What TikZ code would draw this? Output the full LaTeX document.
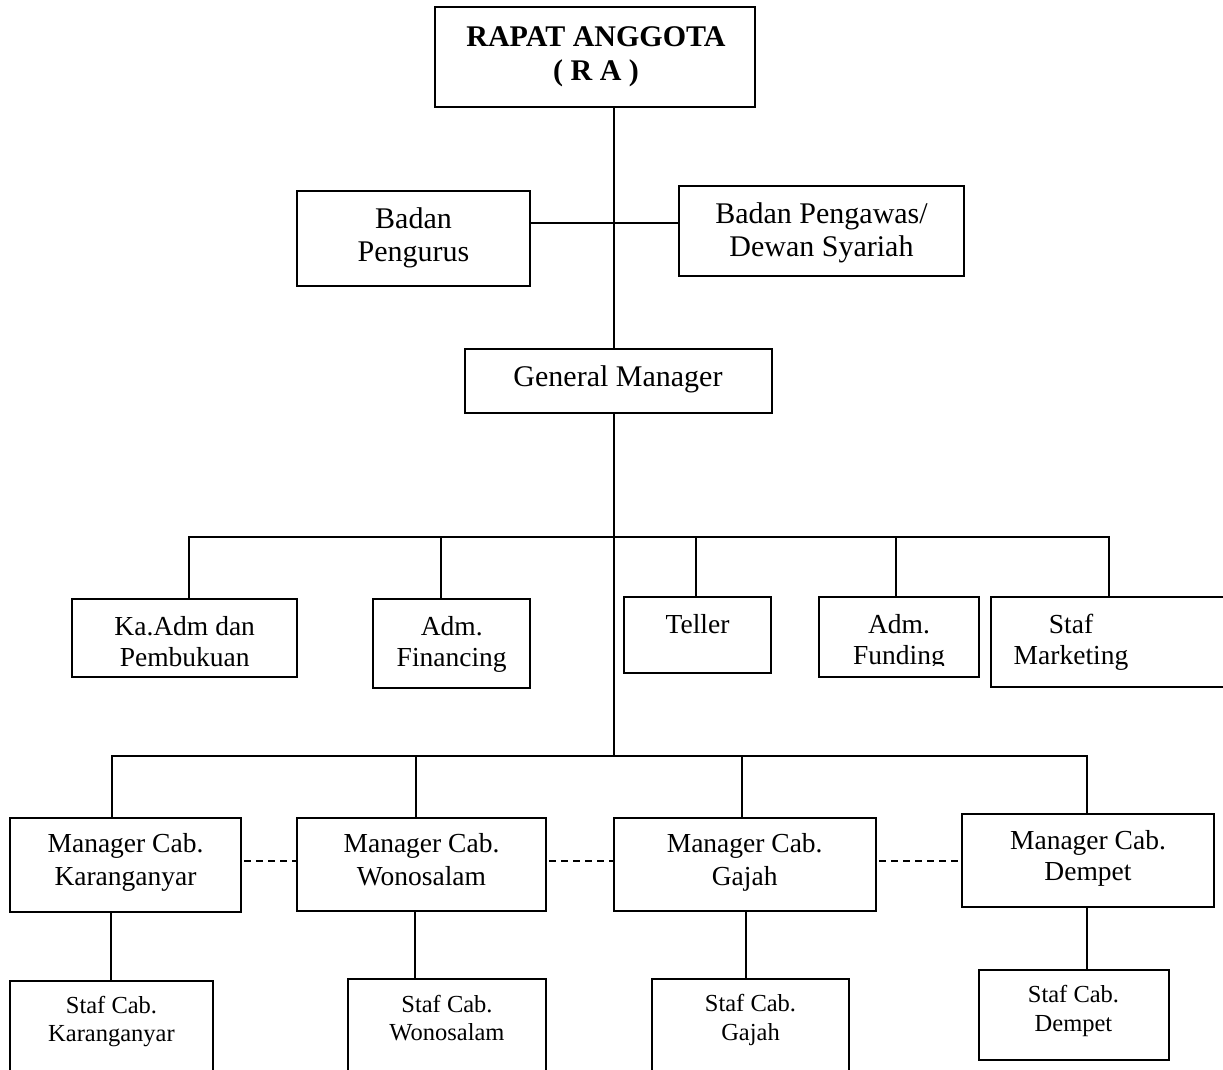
\documentclass[tikz,border=0pt]{standalone}
\usepackage{fontspec}
\setmainfont{Liberation Serif}
\newcommand{\twol}[2]{\begin{tabular}[t]{@{}c@{}}#1\\#2\end{tabular}}
\begin{document}
\begin{tikzpicture}[x=1pt,y=-1pt,
  bx/.style={draw, line width=1.8pt, rectangle, inner sep=0pt, outer sep=0pt, anchor=north west},
  ln/.style={line width=2pt},
  dl/.style={line width=2pt, dash pattern=on 7pt off 5pt, dash phase=-3pt},
  tx/.style={anchor=base, inner sep=0pt, outer sep=0pt},
  fB/.style={font=\fontsize{30}{33.3}\selectfont\bfseries},
  fL/.style={font=\fontsize{30}{33.5}\selectfont},
  fM/.style={font=\fontsize{27.5}{31.5}\selectfont},
  fMM/.style={font=\fontsize{27.5}{32.5}\selectfont},
  fS/.style={font=\fontsize{24.5}{28.4}\selectfont}]
\useasboundingbox (0,0) rectangle (1223,1069);
\fill[white] (0,0) rectangle (1223,1069);
\clip (0,0) rectangle (1223,1069);

% boxes
\node[bx, minimum width=320pt, minimum height=100pt] (RA) at (435,7) {};
\node[bx, minimum width=233pt, minimum height=95pt] (BP) at (297,191) {};
\node[bx, minimum width=285pt, minimum height=90pt] (BPW) at (679,186) {};
\node[bx, minimum width=307pt, minimum height=64pt] (GM) at (465,349) {};
\node[bx, minimum width=225pt, minimum height=78pt] (KA) at (72,599) {};
\node[bx, minimum width=157pt, minimum height=89pt] (AF) at (373,599) {};
\node[bx, minimum width=147pt, minimum height=76pt] (TE) at (624,597) {};
\node[bx, minimum width=160pt, minimum height=80pt] (AFU) at (819,597) {};
\node[bx, minimum width=260pt, minimum height=90pt] (SM) at (991,597) {};
\node[bx, minimum width=231pt, minimum height=94pt] (MK) at (10,818) {};
\node[bx, minimum width=249pt, minimum height=93pt] (MW) at (297,818) {};
\node[bx, minimum width=262pt, minimum height=93pt] (MG) at (614,818) {};
\node[bx, minimum width=252pt, minimum height=93pt] (MD) at (962,814) {};
\node[bx, minimum width=203pt, minimum height=120pt] (SK) at (10,981) {};
\node[bx, minimum width=198pt, minimum height=120pt] (SW) at (348,979) {};
\node[bx, minimum width=197pt, minimum height=120pt] (SG) at (652,979) {};
\node[bx, minimum width=190pt, minimum height=90pt] (SD) at (979,970) {};

% texts
\node[tx, fB] (tRA) at (596,46.7) {\twol{RAPAT ANGGOTA}{( R A )}};
\node[tx, fL] (tBP) at (413.5,228) {\twol{Badan}{Pengurus}};
\node[tx, fL] (tBPW) at (821.5,223) {\twol{Badan Pengawas/}{Dewan Syariah}};
\node[tx, fL] (tGM) at (618,386.7) {General Manager};
\node[tx, fM] (tKA) at (184.7,635) {\twol{Ka.Adm dan}{Pembukuan}};
\node[tx, fM] (tAF) at (451.7,635) {\twol{Adm.}{Financing}};
\node[tx, fM] (tTE) at (697.5,633) {Teller};
\begin{scope}
\clip (819,597) rectangle (979,665.5);
\node[tx, fM] (tAFU) at (899,633) {\twol{Adm.}{Funding}};
\end{scope}
\node[tx, fM] (tSM) at (1071,633) {\twol{Staf}{Marketing}};
\node[tx, fMM] (tMK) at (125.5,852.5) {\twol{Manager Cab.}{Karanganyar}};
\node[tx, fMM] (tMW) at (421.5,852.5) {\twol{Manager Cab.}{Wonosalam}};
\node[tx, fMM] (tMG) at (744.7,852.5) {\twol{Manager Cab.}{Gajah}};
\node[tx, fM] (tMD) at (1088,849) {\twol{Manager Cab.}{Dempet}};
\node[tx, fS] (tSK) at (111.5,1013.3) {\twol{Staf Cab.}{Karanganyar}};
\node[tx, fS] (tSW) at (447,1012) {\twol{Staf Cab.}{Wonosalam}};
\node[tx, fS] (tSG) at (750.5,1011.7) {\twol{Staf Cab.}{Gajah}};
\node[tx, fS] (tSD) at (1073.5,1002.7) {\twol{Staf Cab.}{Dempet}};

% connector coordinates
\coordinate (tr) at (614,537);
\coordinate (hb) at (614,223);
\coordinate (bus2) at (614,756);
\coordinate (d1) at (189,537);
\coordinate (d2) at (441,537);
\coordinate (d3) at (696,537);
\coordinate (d4) at (896,537);
\coordinate (d5) at (1109,537);
\coordinate (e1) at (112,756);
\coordinate (e2) at (416,756);
\coordinate (e3) at (742,756);
\coordinate (e4) at (1087,756);
\coordinate (s1) at (111,0);
\coordinate (s2) at (415,0);
\coordinate (s3) at (746,0);
\coordinate (s4) at (1087,0);
\coordinate (dy) at (0,861);

% trunk and top connectors
\draw[ln] (tr |- RA.south) -- (tr |- GM.north);
\draw[ln] (hb -| BP.east) -- (hb -| BPW.west);
\draw[ln] (tr |- GM.south) -- (bus2);

% first bus
\draw[ln] (d1 |- KA.north) -- (d1) -- (d5) -- (d5 |- SM.north);
\draw[ln] (d2) -- (d2 |- AF.north);
\draw[ln] (d3) -- (d3 |- TE.north);
\draw[ln] (d4) -- (d4 |- AFU.north);

% second bus
\draw[ln] (e1 |- MK.north) -- (e1) -- (e4) -- (e4 |- MD.north);
\draw[ln] (e2) -- (e2 |- MW.north);
\draw[ln] (e3) -- (e3 |- MG.north);

% staff connectors
\draw[ln] (s1 |- MK.south) -- (s1 |- SK.north);
\draw[ln] (s2 |- MW.south) -- (s2 |- SW.north);
\draw[ln] (s3 |- MG.south) -- (s3 |- SG.north);
\draw[ln] (s4 |- MD.south) -- (s4 |- SD.north);

% dashed links between branch managers
\draw[dl] (dy -| MK.east) -- (dy -| MW.west);
\draw[dl] (dy -| MW.east) -- (dy -| MG.west);
\draw[dl] (dy -| MG.east) -- (dy -| MD.west);
\end{tikzpicture}
\end{document}
